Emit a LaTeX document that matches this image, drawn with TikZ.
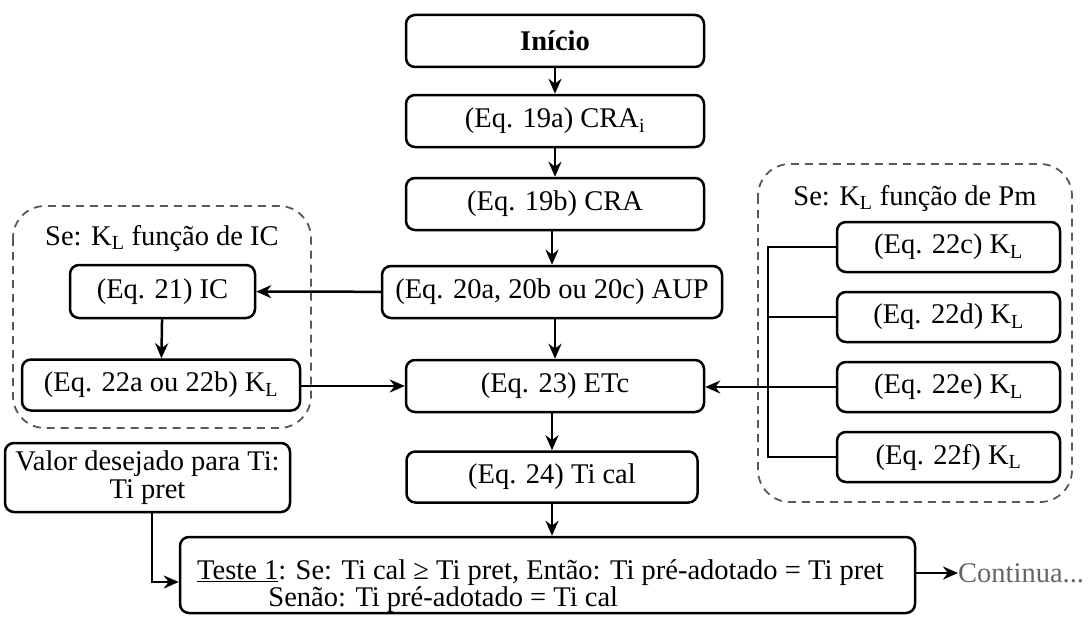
\documentclass[tikz,border=0pt]{standalone}
\usepackage{fontspec}
\setmainfont{Liberation Serif}
\usetikzlibrary{arrows.meta}
\begin{document}
\begin{tikzpicture}[x=1pt,y=-1pt,
  font=\fontsize{28.5}{32}\selectfont,
  box/.style={draw, line width=2.5pt, rounded corners=9pt, inner sep=0pt, align=center},
  group/.style={draw=black!65, line width=1.8pt, dash pattern=on 8pt off 6pt, rounded corners=32pt},
  link/.style={line width=2.5pt},
  arr/.style={line width=2.5pt, -{Stealth[length=15pt,width=13pt]}},
  lbl/.style={inner sep=0pt}
]
\useasboundingbox (0,0) rectangle (1090,618);

% dashed option groups
\draw[group] (13,206) rectangle (311,428);
\draw[group] (758,164) rectangle (1072,502);
\node[lbl] (lblic) at (162,238) {Se: K\textsubscript{L} função de IC};
\node[lbl] (lblpm) at (915,198) {Se: K\textsubscript{L} função de Pm};

% main column
\node[box, minimum width=298pt, minimum height=52pt] (ini) at (555,41) {\textbf{Início}};
\node[box, minimum width=298pt, minimum height=52pt] (cra1) at (555,121) {(Eq. 19a) CRA\textsubscript{i}};
\node[box, minimum width=298pt, minimum height=52pt] (cra2) at (555,204) {(Eq. 19b) CRA};
\node[box, minimum width=340pt, minimum height=52pt] (aup) at (552,292) {(Eq. 20a, 20b ou 20c) AUP};
\node[box, minimum width=298pt, minimum height=52pt] (etc) at (555,386) {(Eq. 23) ETc};
\node[box, minimum width=291pt, minimum height=51pt] (tical) at (552,477) {(Eq. 24) Ti cal};
\node[box, minimum width=735pt, minimum height=76pt] (teste) at (547.5,575) {};
\node[lbl, anchor=north west, align=left] (testetxt) at (197,559)
  {\underline{Teste 1}: Se: Ti cal ≥ Ti pret, Então: Ti pré-adotado = Ti pret\\[-5pt]
   \hspace*{2.5em}Senão: Ti pré-adotado = Ti cal};

% left branch
\node[box, minimum width=185pt, minimum height=53pt] (ic) at (162.5,291.5) {(Eq. 21) IC};
\node[box, minimum width=278pt, minimum height=51pt] (kab) at (161,385) {(Eq. 22a ou 22b) K\textsubscript{L}};
\node[box, minimum width=285pt, minimum height=69pt] (valor) at (147.5,477.5)
  {Valor desejado para Ti:\\[-4pt] Ti pret};

% right branch
\node[box, minimum width=223pt, minimum height=50pt] (kc) at (948.5,247) {(Eq. 22c) K\textsubscript{L}};
\node[box, minimum width=223pt, minimum height=50pt] (kd) at (948.5,317) {(Eq. 22d) K\textsubscript{L}};
\node[box, minimum width=223pt, minimum height=50pt] (ke) at (948.5,387) {(Eq. 22e) K\textsubscript{L}};
\node[box, minimum width=223pt, minimum height=50pt] (kf) at (948.5,457) {(Eq. 22f) K\textsubscript{L}};

\node[lbl, anchor=west, text=black!60] (cont) at (958,573) {Continua...};

% connectors
\draw[arr] (ini) -- (cra1);
\draw[arr] (cra1) -- (cra2);
\draw[arr] (cra2.south -| aup) -- (aup);
\draw[arr] (aup.south -| etc) -- (etc);
\draw[arr] (etc.south -| tical) -- (tical);
\draw[arr] (tical) -- (tical |- teste.north);
\draw[arr] (aup) -- (ic);
\draw[arr] (ic) -- (kab);
\draw[arr] (kab.east |- etc) -- (etc);

\coordinate (bustop) at (768,247);
\coordinate (busbot) at (768,457);
\draw[link] (kc.west) -- (bustop) -- (busbot) -- (kf.west);
\draw[link] (kd.west) -- (kd.west -| bustop);
\draw[arr] (ke.west) -- (etc.east |- ke.west);

\coordinate (tbend) at (152,582);
\draw[arr] (valor.south -| tbend) -- (tbend) -- (teste.west |- tbend);
\draw[arr] (teste.east |- cont) -- (cont.west);
\end{tikzpicture}
\end{document}
